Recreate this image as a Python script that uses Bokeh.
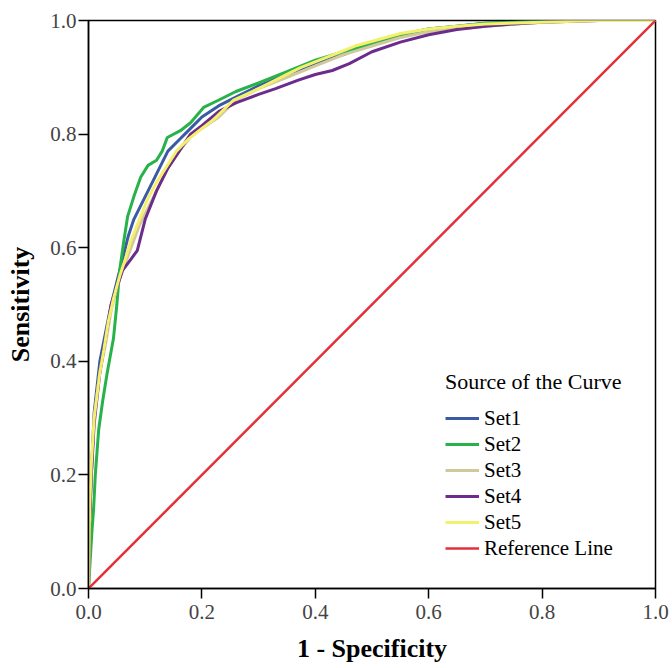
from bokeh.plotting import figure
from bokeh.models import Range1d, Legend, LegendItem, FixedTicker
from bokeh.embed import file_html
from bokeh.resources import INLINE

# ROC curves: 1 - specificity (fpr) and sensitivity (tpr)
set1_fpr = [0, 0.002, 0.005, 0.01, 0.02, 0.03, 0.04, 0.05, 0.06, 0.07, 0.08, 0.10, 0.12, 0.14, 0.16, 0.18, 0.20, 0.23, 0.26, 0.30, 0.35, 0.40, 0.45, 0.50, 0.55, 0.60, 0.65, 0.70, 0.80, 0.85, 1.0]
set1_tpr = [0, 0.12, 0.20, 0.31, 0.40, 0.45, 0.50, 0.54, 0.58, 0.62, 0.65, 0.69, 0.73, 0.77, 0.79, 0.81, 0.83, 0.85, 0.865, 0.885, 0.905, 0.925, 0.94, 0.96, 0.975, 0.985, 0.99, 0.995, 0.999, 1.0, 1.0]

set2_fpr = [0, 0.003, 0.006, 0.009, 0.012, 0.018, 0.025, 0.033, 0.044, 0.05, 0.055, 0.062, 0.069, 0.08, 0.092, 0.105, 0.12, 0.13, 0.139, 0.162, 0.18, 0.203, 0.23, 0.26, 0.30, 0.35, 0.40, 0.45, 0.50, 0.55, 0.60, 0.65, 0.70, 0.80, 0.85, 1.0]
set2_tpr = [0, 0.05, 0.10, 0.14, 0.20, 0.28, 0.33, 0.38, 0.44, 0.50, 0.56, 0.61, 0.655, 0.69, 0.724, 0.745, 0.754, 0.77, 0.794, 0.806, 0.82, 0.847, 0.86, 0.875, 0.89, 0.91, 0.93, 0.945, 0.96, 0.975, 0.985, 0.99, 0.995, 0.999, 1.0, 1.0]

set3_fpr = [0, 0.002, 0.005, 0.01, 0.02, 0.03, 0.04, 0.05, 0.06, 0.075, 0.09, 0.10, 0.12, 0.14, 0.16, 0.18, 0.20, 0.23, 0.26, 0.30, 0.35, 0.40, 0.45, 0.50, 0.55, 0.60, 0.70, 0.80, 0.90, 1.0]
set3_tpr = [0, 0.12, 0.20, 0.30, 0.38, 0.43, 0.49, 0.53, 0.56, 0.60, 0.64, 0.66, 0.70, 0.74, 0.77, 0.795, 0.81, 0.83, 0.86, 0.88, 0.90, 0.92, 0.94, 0.955, 0.97, 0.98, 0.99, 0.997, 1.0, 1.0]

set4_fpr = [0, 0.002, 0.005, 0.01, 0.02, 0.03, 0.04, 0.05, 0.06, 0.075, 0.086, 0.10, 0.12, 0.14, 0.16, 0.18, 0.20, 0.23, 0.26, 0.30, 0.33, 0.37, 0.40, 0.43, 0.46, 0.50, 0.55, 0.60, 0.65, 0.70, 0.75, 0.80, 0.90, 1.0]
set4_tpr = [0, 0.12, 0.20, 0.29, 0.38, 0.44, 0.50, 0.53, 0.56, 0.58, 0.595, 0.65, 0.70, 0.74, 0.77, 0.80, 0.815, 0.84, 0.855, 0.87, 0.88, 0.895, 0.905, 0.912, 0.924, 0.945, 0.962, 0.975, 0.984, 0.99, 0.994, 0.997, 1.0, 1.0]

set5_fpr = [0, 0.002, 0.005, 0.01, 0.015, 0.02, 0.027, 0.035, 0.044, 0.055, 0.065, 0.074, 0.09, 0.104, 0.12, 0.139, 0.155, 0.175, 0.20, 0.22, 0.256, 0.30, 0.35, 0.374, 0.42, 0.47, 0.55, 0.60, 0.65, 0.70, 0.80, 0.873, 0.90, 1.0]
set5_tpr = [0, 0.14, 0.22, 0.30, 0.34, 0.38, 0.42, 0.47, 0.51, 0.55, 0.58, 0.61, 0.65, 0.685, 0.715, 0.745, 0.77, 0.79, 0.81, 0.825, 0.86, 0.88, 0.905, 0.917, 0.935, 0.955, 0.977, 0.985, 0.99, 0.994, 0.997, 0.999, 1.0, 1.0]

ref_x = [0, 1]
ref_y = [0, 1]

series_names = ["Set1", "Set2", "Set3", "Set4", "Set5"]
series_colors = ["#3b5aa6", "#27b24a", "#cfc99c", "#6b2c8c", "#f4f06c"]
ref_name = "Reference Line"
ref_color = "#e3313b"
legend_title = "Source of the Curve"
x_label = "1 - Specificity"
y_label = "Sensitivity"
tick_values = [0.0, 0.2, 0.4, 0.6, 0.8, 1.0]

SERIF = "Liberation Serif"

p = figure(
    frame_width=567, frame_height=568,
    min_border_left=88, min_border_right=17, min_border_top=20, min_border_bottom=80,
    x_range=Range1d(0, 1), y_range=Range1d(0, 1),
    output_backend="svg", toolbar_location=None,
    background_fill_color="white", border_fill_color="white",
)
p.grid.visible = False
p.outline_line_color = "black"
p.outline_line_width = 1.5

for ax in (p.xaxis[0], p.yaxis[0]):
    ax.ticker = FixedTicker(ticks=tick_values)
    ax.axis_line_color = "black"
    ax.axis_line_width = 1.5
    ax.major_tick_line_color = "black"
    ax.major_tick_line_width = 1.5
    ax.major_tick_out = 10
    ax.major_tick_in = 0
    ax.minor_tick_line_color = None
    ax.major_label_text_font = SERIF
    ax.major_label_text_font_size = "21px"
    ax.major_label_text_color = "#444444"
    ax.axis_label_text_font = SERIF
    ax.axis_label_text_font_size = "26px"
    ax.axis_label_text_font_style = "bold"
    ax.axis_label_text_color = "black"

p.xaxis[0].axis_label = x_label
p.yaxis[0].axis_label = y_label
p.xaxis[0].major_label_standoff = 6
p.yaxis[0].major_label_standoff = 2
p.xaxis[0].axis_label_standoff = 12
p.yaxis[0].axis_label_standoff = 12
p.xaxis[0].major_label_overrides = {v: f"{v:.1f}" for v in tick_values}
p.yaxis[0].major_label_overrides = {v: f"{v:.1f}" for v in tick_values}

fprs = [set1_fpr, set2_fpr, set3_fpr, set4_fpr, set5_fpr]
tprs = [set1_tpr, set2_tpr, set3_tpr, set4_tpr, set5_tpr]
items = []
for name, color, fx, ty in zip(series_names, series_colors, fprs, tprs):
    r = p.line(fx, ty, line_color=color, line_width=3)
    items.append(LegendItem(label=name, renderers=[r]))
rr = p.line(ref_x, ref_y, line_color=ref_color, line_width=2.5)
items.append(LegendItem(label=ref_name, renderers=[rr]))

legend = Legend(
    items=items, location=(357, 27),
    title=legend_title,
    title_text_font=SERIF, title_text_font_size="22px", title_text_font_style="normal",
    title_text_color="black", title_standoff=10,
    label_text_font=SERIF, label_text_font_size="21px", label_text_color="black",
    glyph_width=34, glyph_height=26, label_height=26, label_standoff=5,
    spacing=0, padding=0, margin=0,
    border_line_color=None, background_fill_alpha=0.0,
)
p.add_layout(legend, "center")

open("out.html", "w").write(file_html(p, INLINE))
